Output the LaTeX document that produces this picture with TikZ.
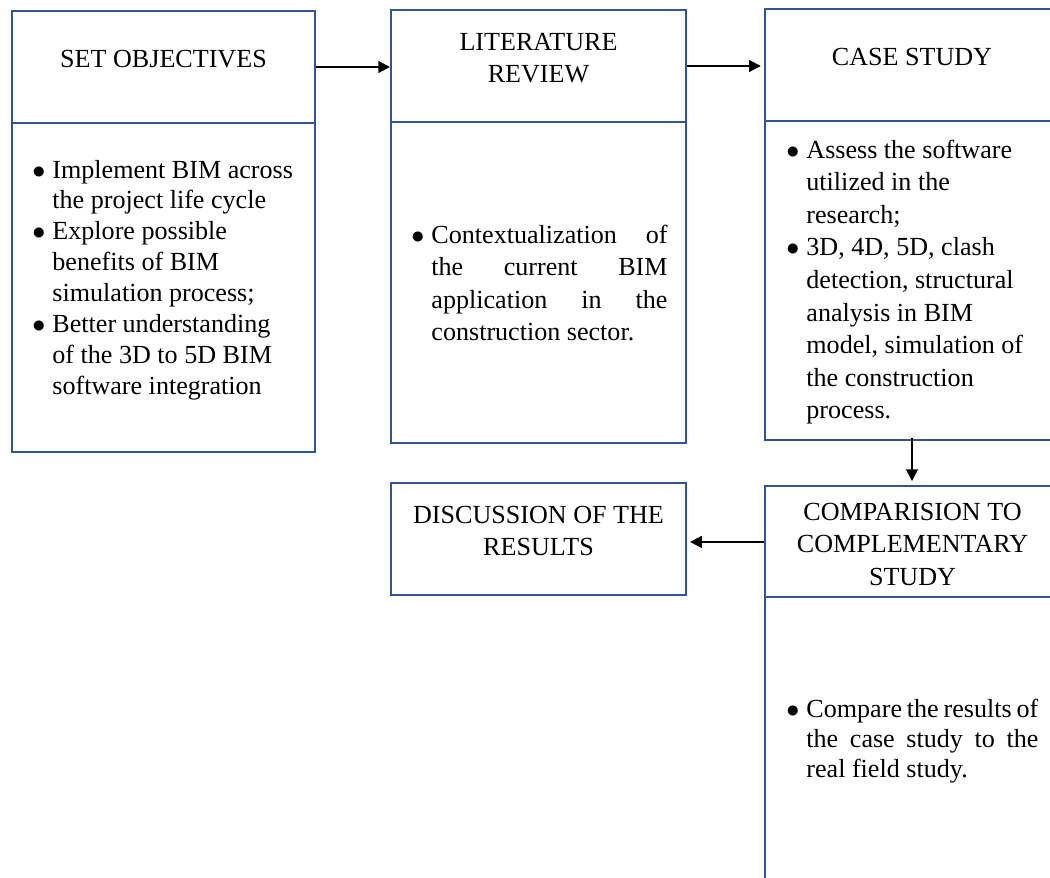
\documentclass[tikz,border=0pt]{standalone}
\usepackage{fontspec}
\setmainfont{Liberation Serif}
\usetikzlibrary{arrows.meta}
\definecolor{boxblue}{RGB}{47,85,151}
\newcommand{\bul}{\makebox[9.2pt][l]{$\bullet$}}

\begin{document}
\begin{tikzpicture}[
    x=0.46pt, y=-0.46pt,
    frame/.style={draw=boxblue, line width=0.9pt, inner sep=0pt},
    headtext/.style={inner sep=0pt, anchor=base, font=\fontsize{12}{15}\selectfont},
    bodytext/.style={inner sep=0pt, anchor=base west, font=\fontsize{12}{15}\selectfont},
    >={Triangle[length=5.4pt,width=5.4pt]},
    flow/.style={->, line width=0.9pt}
]
\useasboundingbox (0,0) rectangle (1050,877);
\clip (0,0) rectangle (1050,877);

% Set objectives
\node[frame, minimum width=139.4pt, minimum height=51.5pt] (objhead) at (163.5,67) {};
\node[frame, minimum width=139.4pt, minimum height=151.3pt] (objbody) at (163.5,287.5) {};
\node[headtext] (objtitle) at (163.5,67) {SET OBJECTIVES};
\node[bodytext, font=\fontsize{12}{14.2}\selectfont] (objtext) at (32,178) {\begin{tabular}[t]{@{}l@{}l@{}}
    \bul & Implement BIM across\\ & the project life cycle\\
    \bul & Explore possible\\ & benefits of BIM\\ & simulation process;\\
    \bul & Better understanding\\ & of the 3D to 5D BIM\\ & software integration
\end{tabular}};

% Literature review
\node[frame, minimum width=135.7pt, minimum height=51.5pt] (lithead) at (538.5,66) {};
\node[frame, minimum width=135.7pt, minimum height=147.7pt] (litbody) at (538.5,282.5) {};
\node[headtext] (littitle) at (538.5,50) {\begin{tabular}[t]{@{}c@{}}LITERATURE\\REVIEW\end{tabular}};
\node[bodytext] (littext) at (411,243) {\begin{tabular}[t]{@{}l@{}l@{}}
    \bul & \makebox[108.6pt][s]{Contextualization of}\\
         & \makebox[108.6pt][s]{the current BIM}\\
         & \makebox[108.6pt][s]{application in the}\\
         & construction sector.
\end{tabular}};

% Case study
\node[frame, minimum width=135.2pt, minimum height=51.5pt] (casehead) at (912,65) {};
\node[frame, minimum width=135.2pt, minimum height=146.7pt] (casebody) at (912,280.5) {};
\node[headtext] (casetitle) at (912,65) {CASE STUDY};
\node[bodytext] (casetext) at (786,158) {\begin{tabular}[t]{@{}l@{}l@{}}
    \bul & Assess the software\\ & utilized in the\\ & research;\\
    \bul & 3D, 4D, 5D, clash\\ & detection, structural\\ & analysis in BIM\\
         & model, simulation of\\ & the construction\\ & process.
\end{tabular}};

% Discussion of the results
\node[frame, minimum width=135.7pt, minimum height=51.5pt] (dischead) at (538.5,539) {};
\node[headtext] (disctitle) at (538.5,523) {\begin{tabular}[t]{@{}c@{}}DISCUSSION OF THE\\RESULTS\end{tabular}};

% Comparision to complementary study
\node[frame, minimum width=135.2pt, minimum height=51.1pt] (comphead) at (912,541.5) {};
\node[frame, minimum width=135.2pt, minimum height=139.4pt] (compbody) at (912,748.5) {};
\node[headtext] (comptitle) at (912.5,520) {\begin{tabular}[t]{@{}c@{}}COMPARISION TO\\COMPLEMENTARY\\STUDY\end{tabular}};
\node[bodytext, font=\fontsize{12}{13.8}\selectfont] (comptext) at (786,717) {\begin{tabular}[t]{@{}l@{}l@{}}
    \bul & \makebox[106.7pt][s]{Compare the results of}\\
         & \makebox[106.7pt][s]{the case study to the}\\
         & real field study.
\end{tabular}};

% Connections
\draw[flow] (objhead.east) -- (objhead.east -| lithead.west);
\draw[flow, shorten >=1.5pt] (lithead.east) -- (lithead.east -| casehead.west);
\draw[flow, shorten >=1.8pt] ([yshift=1.4pt]casebody.south) -- (comphead.north);
\draw[flow, shorten >=1.4pt] ([yshift=-0.2pt]comphead.west) -- ([yshift=-0.2pt]comphead.west -| dischead.east);

\end{tikzpicture}
\end{document}
